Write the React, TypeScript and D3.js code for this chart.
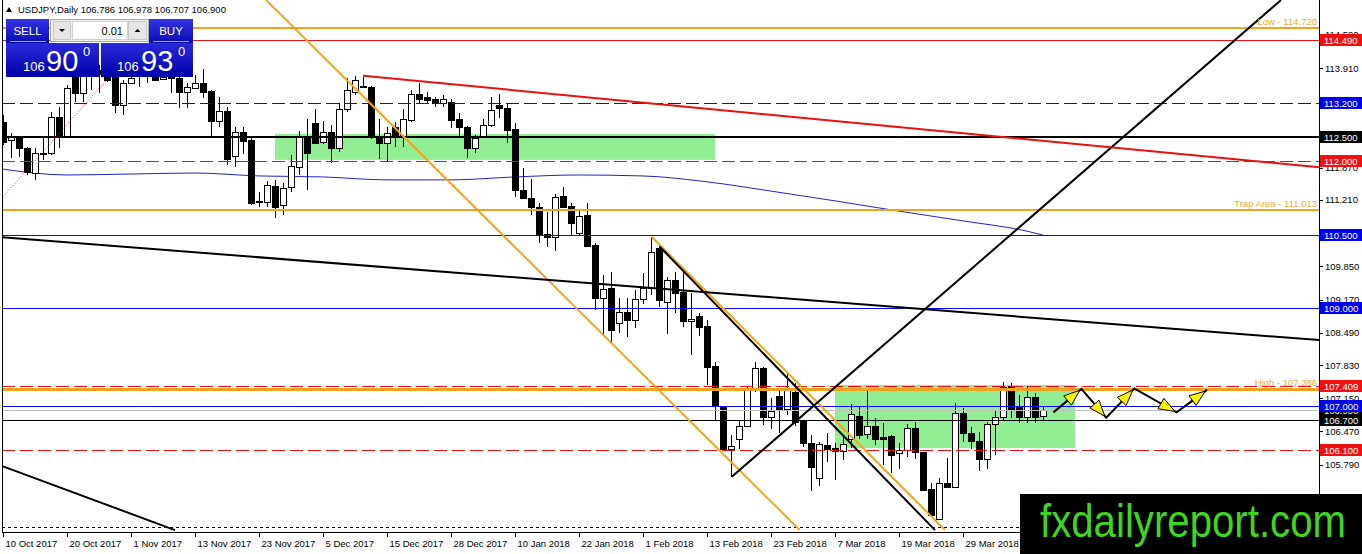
import React, { useEffect } from 'react';
import * as d3 from 'd3';

// USDJPY daily chart, MT4 style. Bar 0 = 10 Oct 2017, bar 130 = last (current) bar.
const W = 1362;
const H = 554;
const PLOT_L = 2;
const PLOT_R = 1319;
const PLOT_B = 532;

const dateLabels = [
  '10 Oct 2017', '20 Oct 2017', '1 Nov 2017', '13 Nov 2017', '23 Nov 2017', '5 Dec 2017',
  '15 Dec 2017', '28 Dec 2017', '10 Jan 2018', '22 Jan 2018', '1 Feb 2018', '13 Feb 2018',
  '23 Feb 2018', '7 Mar 2018', '19 Mar 2018', '29 Mar 2018',
];
const dateLabelBars = [0, 8, 16, 24, 32, 40, 48, 56, 64, 72, 80, 88, 96, 104, 112, 120];

const priceTicks = [
  114.59, 113.91, 113.23, 112.55, 111.87, 111.21, 110.53, 109.85, 109.17, 108.49, 107.83,
  107.15, 106.47, 105.79, 105.11,
];

const opens = [
  112.8, 112.44, 112.5, 112.27, 111.76, 112.15, 112.17, 112.91, 112.5, 113.75,
  113.4, 113.83, 113.87, 113.83, 113.87, 113.15, 113.6, 113.79, 113.83, 113.75,
  113.69, 113.79, 113.71, 113.42, 113.5, 113.6, 113.44, 112.83, 113.03, 112.11,
  112.6, 112.44, 111.19, 111.17, 111.49, 111.11, 111.47, 111.88, 112.5, 112.78,
  112.4, 112.6, 112.27, 113.07, 113.42, 113.54, 113.52, 112.5, 112.38, 112.7,
  112.5, 112.85, 113.38, 113.32, 113.28, 113.19, 113.21, 112.87, 112.7, 112.27,
  112.5, 112.74, 113.15, 113.09, 112.66, 111.41, 111.25, 111.07, 110.51, 110.45,
  111.29, 111.09, 110.53, 110.9, 110.29, 109.2, 109.41, 108.69, 108.92, 108.75,
  109.18, 109.41, 110.23, 109.12, 109.57, 109.32, 108.73, 108.83, 108.63, 107.81,
  106.99, 106.11, 106.32, 106.58, 107.32, 107.77, 106.77, 107.2, 106.93, 107.28,
  106.7, 106.23, 105.52, 106.19, 106.13, 106.07, 106.32, 106.79, 106.42, 106.58,
  106.36, 106.38, 106.03, 106.09, 106.54, 106.05, 105.29, 104.68, 105.42, 105.33,
  106.85, 106.44, 106.27, 105.91, 106.62, 106.77, 107.4, 106.99, 106.77, 107.18,
  106.786,
];
const highs = [
  112.95, 112.58, 112.52, 112.29, 112.27, 112.48, 113.01, 113.11, 113.56, 113.87,
  113.87, 114.03, 113.97, 113.95, 113.95, 113.66, 113.79, 113.91, 113.95, 113.87,
  113.83, 113.91, 113.87, 113.6, 113.77, 113.89, 113.46, 113.32, 113.11, 112.7,
  112.7, 112.48, 111.37, 111.6, 111.62, 111.56, 112.13, 112.62, 112.87, 113.07,
  112.83, 112.74, 113.19, 113.71, 113.75, 113.73, 113.54, 112.87, 112.7, 112.8,
  113.07, 113.46, 113.6, 113.42, 113.32, 113.36, 113.28, 112.99, 112.72, 112.54,
  112.87, 113.32, 113.38, 113.19, 112.78, 111.86, 111.64, 111.15, 110.96, 111.33,
  111.47, 111.15, 111.0, 111.15, 110.33, 109.67, 109.73, 109.2, 109.2, 109.37,
  109.71, 110.45, 110.27, 109.63, 109.73, 109.75, 109.3, 108.89, 108.75, 107.89,
  106.99, 106.4, 106.68, 107.38, 107.89, 107.79, 107.15, 107.32, 107.65, 107.46,
  106.7, 106.4, 106.25, 106.44, 106.23, 106.4, 107.03, 106.97, 107.32, 106.75,
  106.64, 106.4, 106.23, 106.62, 106.66, 106.05, 105.42, 105.52, 105.93, 107.05,
  106.95, 106.56, 106.46, 106.66, 106.89, 107.48, 107.46, 107.22, 107.4, 107.26,
  106.978,
];
const lows = [
  112.33, 112.07, 112.09, 111.72, 111.62, 112.03, 112.13, 112.27, 112.48, 113.21,
  113.21, 113.46, 113.4, 113.62, 112.99, 112.95, 113.58, 113.52, 113.6, 113.64,
  113.66, 113.4, 113.09, 113.09, 113.48, 113.3, 112.48, 112.7, 111.92, 111.88,
  112.15, 111.11, 111.07, 111.07, 110.84, 110.9, 111.37, 111.72, 111.41, 112.35,
  112.35, 111.97, 112.19, 113.01, 113.36, 113.52, 112.46, 112.05, 112.01, 112.29,
  112.29, 112.8, 113.19, 113.19, 113.11, 113.11, 112.68, 112.48, 112.07, 112.17,
  112.48, 112.7, 112.89, 112.38, 111.27, 111.23, 110.9, 110.33, 110.25, 110.16,
  111.04, 110.49, 110.49, 110.25, 108.96, 108.47, 108.3, 108.49, 108.4, 108.59,
  109.08, 109.26, 109.02, 108.47, 108.89, 108.61, 108.04, 108.42, 107.42, 106.7,
  106.09, 105.54, 106.11, 106.56, 107.28, 106.6, 106.52, 106.44, 106.81, 106.58,
  106.15, 105.25, 105.35, 105.84, 105.48, 105.89, 106.13, 106.32, 106.32, 106.19,
  105.78, 105.62, 105.7, 105.95, 105.91, 105.25, 104.72, 104.66, 105.33, 105.31,
  106.25, 106.11, 105.66, 105.7, 105.99, 106.68, 106.75, 106.64, 106.64, 106.64,
  106.707,
];
const closes = [
  112.4, 112.5, 112.27, 111.78, 112.17, 112.17, 112.91, 112.5, 113.5, 113.4,
  113.79, 113.91, 113.79, 113.66, 113.15, 113.6, 113.71, 113.83, 113.79, 113.66,
  113.73, 113.71, 113.42, 113.52, 113.6, 113.42, 112.83, 113.03, 112.05, 112.6,
  112.42, 111.15, 111.18, 111.52, 111.07, 111.45, 111.9, 112.5, 112.17, 112.38,
  112.6, 112.27, 113.07, 113.46, 113.66, 113.55, 112.5, 112.38, 112.58, 112.5,
  112.87, 113.38, 113.28, 113.26, 113.19, 113.28, 112.85, 112.7, 112.27, 112.48,
  112.74, 113.05, 113.09, 112.64, 111.41, 111.25, 111.07, 110.51, 110.45, 111.27,
  111.07, 110.74, 110.88, 110.27, 109.2, 109.39, 108.55, 108.92, 108.75, 109.18,
  109.41, 110.14, 109.16, 109.57, 109.3, 108.73, 108.77, 108.61, 107.79, 106.99,
  106.11, 106.17, 106.58, 107.32, 107.77, 106.77, 106.89, 106.93, 107.32, 106.66,
  106.23, 105.74, 106.21, 106.11, 106.07, 106.21, 106.83, 106.4, 106.58, 106.32,
  106.32, 105.99, 106.09, 106.54, 106.05, 105.27, 104.76, 105.42, 105.33, 106.85,
  106.44, 106.27, 105.91, 106.62, 106.77, 107.38, 106.93, 106.77, 107.18, 106.77,
  106.9,
];

// moving average (blue), read at every 8th bar
const maBars = [0, 8, 16, 24, 32, 40, 48, 56, 64, 72, 80, 88, 96, 104, 112, 120, 128, 130];
const maValues = [
  111.84, 111.72, 111.74, 111.76, 111.7, 111.68, 111.62, 111.62, 111.68, 111.72, 111.7,
  111.58, 111.39, 111.19, 110.98, 110.78, 110.57, 110.49,
];

// horizontal lines
const levelPrices = [114.72, 114.49, 113.2, 112.5, 112.0, 111.013, 110.5, 109.0, 107.409, 107.34, 107.0, 106.9, 106.7, 106.1, 104.51];
const levelKinds = ['orange', 'red', 'blueDash', 'blackBold', 'redDash', 'orange', 'blue', 'blue', 'redDash', 'orangeBold', 'blue', 'grey', 'black', 'redDash', 'dotted'];
const levelNames = ['Low - 114.720', '', '', '', '', 'Trap Area - 111.013', '', '', '', 'High - 107.386', '', '', '', '', ''];

// price boxes on the right scale (drawing order)
const boxPrices = [106.9, 106.7, 107.0, 107.409, 106.1, 109.0, 110.5, 112.0, 112.5, 113.2, 114.49];
const boxKinds = ['black', 'black', 'blue', 'red', 'red', 'blue', 'blue', 'red', 'black', 'blue', 'red'];

// trend lines: [bar1, price1, bar2, price2]
const trendPoints = [
  [32.9, 115.3, 99.6, 104.45],
  [81.1, 110.45, 117.75, 104.45],
  [82.1, 110.25, 116.5, 104.45],
  [91.1, 105.54, 159.75, 115.3],
  [-0.4, 110.45, 164.5, 108.34],
  [45, 113.75, 164.5, 111.88],
  [-0.4, 105.78, 21.5, 104.45],
  [0, 111.27, 15, 114.05],
];
const trendKinds = ['orange', 'orange', 'black', 'black', 'black', 'red', 'black', 'redDot'];

// green zones: [bar1, bar2, priceTop, priceBottom]
const zones = [
  [34, 89, 112.56, 112.03],
  [104, 134, 107.42, 106.13],
];

// projected path with arrows
const projBars = [131.3, 134.8, 137.9, 141.4, 146.7, 150.5];
const projPrices = [106.86, 107.34, 106.75, 107.35, 106.86, 107.32];

const bidPrice = 106.9;
const askPrice = 106.93;

const STYLE: Record<string, { stroke: string; width: number; dash?: string }> = {
  orange: { stroke: '#F2A31E', width: 2 },
  orangeBold: { stroke: '#F2A31E', width: 3 },
  red: { stroke: '#E81010', width: 1 },
  redDash: { stroke: '#E81010', width: 1, dash: '13,5' },
  redDot: { stroke: '#E81010', width: 1, dash: '1,2' },
  blue: { stroke: '#0A0AF0', width: 1 },
  blueDash: { stroke: '#0A0AF0', width: 1, dash: '13,5' },
  black: { stroke: '#000', width: 1 },
  blackBold: { stroke: '#000', width: 2 },
  grey: { stroke: '#C0C0C0', width: 1 },
  dotted: { stroke: '#000', width: 1, dash: '3,3' },
};
const TREND_W: Record<string, number> = { orange: 2, black: 2, red: 2, redDot: 1 };
const BOX_FILL: Record<string, string> = { black: '#000', blue: '#0000F0', red: '#F01010' };
const FONT = "'Liberation Sans', Arial, sans-serif";

// snap a horizontal line to the pixel grid so 1px lines stay sharp
const snap = (v: number, w: number) => (w % 2 === 1 ? Math.round(v) + 0.5 : Math.round(v));

export default function App() {
  useEffect(() => {
    document.body.style.margin = '0';
  }, []);

  const x = d3.scaleLinear().domain([0, 130]).range([3, 1043]);
  const y = d3.scaleLinear().domain([107.83, 113.91]).range([365, 68]);

  const maLine = d3
    .line<number>()
    .x((_, i) => x(maBars[i]))
    .y((d) => y(d))
    .curve(d3.curveMonotoneX);

  const projLine = d3
    .line<number>()
    .x((_, i) => x(projBars[i]))
    .y((d) => y(d));

  // arrowheads near the end of each projection segment
  const arrowHeads = projPrices.slice(1).map((p, i) => {
    const x0 = x(projBars[i]);
    const y0 = y(projPrices[i]);
    const x1 = x(projBars[i + 1]);
    const y1 = y(p);
    const len = Math.hypot(x1 - x0, y1 - y0);
    const ux = (x1 - x0) / len;
    const uy = (y1 - y0) / len;
    const tx = x1 - ux * 2;
    const ty = y1 - uy * 2;
    const bx = tx - ux * 16;
    const by = ty - uy * 16;
    return `M${tx},${ty}L${bx - uy * 6},${by + ux * 6}L${bx + uy * 6},${by - ux * 6}Z`;
  });

  const splitPrice = (p: number) => {
    const s = p.toFixed(3);
    return { big: s.slice(0, 3), mid: s.slice(4, 6), pip: s.slice(6) };
  };
  const bid = splitPrice(bidPrice);
  const ask = splitPrice(askPrice);
  const last = opens.length - 1;

  return (
    <svg width={W} height={H} style={{ display: 'block', background: '#fff' }} fontFamily={FONT}>
      <defs>
        <clipPath id="plot">
          <rect x={PLOT_L} y={0} width={PLOT_R - PLOT_L} height={PLOT_B} />
        </clipPath>
        <linearGradient id="btn" x1="0" y1="0" x2="0" y2="1">
          <stop offset="0" stopColor="#3434E6" />
          <stop offset="1" stopColor="#0A0AB4" />
        </linearGradient>
        <linearGradient id="pbox" x1="0" y1="0" x2="0" y2="1">
          <stop offset="0" stopColor="#2A2ADE" />
          <stop offset="1" stopColor="#0000A6" />
        </linearGradient>
      </defs>

      <g clipPath="url(#plot)">
        {zones.map((z, i) => (
          <rect
            key={`z${i}`}
            x={x(z[0])}
            y={y(z[2])}
            width={x(z[1]) - x(z[0])}
            height={y(z[3]) - y(z[2])}
            fill="#92EE92"
          />
        ))}

        <path d={maLine(maValues) ?? ''} fill="none" stroke="#2323C8" strokeWidth={1} />

        {opens.map((o, i) => {
          const c = closes[i];
          const cx = Math.round(x(i)) + 0.5;
          const top = Math.round(y(Math.max(o, c))) + 0.5;
          const bot = Math.round(y(Math.min(o, c))) + 0.5;
          const bull = c >= o;
          return (
            <g key={`c${i}`} shapeRendering="crispEdges">
              <line x1={cx} x2={cx} y1={y(highs[i])} y2={y(lows[i])} stroke="#000" strokeWidth={1} />
              <rect
                x={cx - 3}
                y={top}
                width={6}
                height={Math.max(0.5, bot - top)}
                fill={bull ? '#fff' : '#000'}
                stroke="#000"
                strokeWidth={1}
              />
            </g>
          );
        })}

        {levelPrices.map((p, i) => {
          const s = STYLE[levelKinds[i]];
          const ly = snap(y(p), s.width);
          return (
            <line
              key={`l${i}`}
              x1={PLOT_L}
              x2={PLOT_R}
              y1={ly}
              y2={ly}
              stroke={s.stroke}
              strokeWidth={s.width}
              strokeDasharray={s.dash}
            />
          );
        })}

        {trendPoints.map((t, i) => {
          const k = trendKinds[i];
          const s = STYLE[k];
          return (
            <line
              key={`t${i}`}
              x1={x(t[0])}
              y1={y(t[1])}
              x2={x(t[2])}
              y2={y(t[3])}
              stroke={s.stroke}
              strokeWidth={TREND_W[k]}
              strokeDasharray={s.dash}
            />
          );
        })}

        {levelNames.map((n, i) =>
          n ? (
            <text
              key={`n${i}`}
              x={PLOT_R - 2}
              y={y(levelPrices[i]) - 3}
              textAnchor="end"
              fontSize={9.5}
              fill="#F0A838"
            >
              {n}
            </text>
          ) : null,
        )}

        <path d={projLine(projPrices) ?? ''} fill="none" stroke="#000" strokeWidth={2} />
        {arrowHeads.map((d, i) => (
          <path key={`a${i}`} d={d} fill="#FFF200" stroke="#000" strokeWidth={1} />
        ))}
      </g>

      {/* frame and axes */}
      <g shapeRendering="crispEdges">
        <line x1={PLOT_L + 0.5} x2={PLOT_L + 0.5} y1={0} y2={PLOT_B} stroke="#000" />
        <line x1={PLOT_R + 0.5} x2={PLOT_R + 0.5} y1={0} y2={PLOT_B} stroke="#000" />
        <line x1={PLOT_L} x2={PLOT_R + 1} y1={PLOT_B + 0.5} y2={PLOT_B + 0.5} stroke="#000" />
      </g>

      {priceTicks.map((p) => (
        <g key={`pt${p}`}>
          <line x1={PLOT_R} x2={PLOT_R + 4} y1={snap(y(p), 1)} y2={snap(y(p), 1)} stroke="#000" shapeRendering="crispEdges" />
          <text x={1325} y={y(p) + 3.5} fontSize={9.5} fill="#000">
            {p.toFixed(3)}
          </text>
        </g>
      ))}

      {boxPrices.map((p, i) => (
        <g key={`b${i}`}>
          <rect x={1320} y={Math.round(y(p)) - 6} width={42} height={12} fill={BOX_FILL[boxKinds[i]]} />
          <text x={1324} y={Math.round(y(p)) + 3.5} fontSize={9.5} fill="#fff">
            {p.toFixed(3)}
          </text>
        </g>
      ))}

      {dateLabels.map((d, i) => {
        const tx = Math.round(x(dateLabelBars[i])) + 0.5;
        return (
          <g key={`d${i}`}>
            <line x1={tx} x2={tx} y1={PLOT_B} y2={PLOT_B + 5} stroke="#000" shapeRendering="crispEdges" />
            <text x={tx + 2} y={547} fontSize={9.5} fill="#000">
              {d}
            </text>
          </g>
        );
      })}

      {/* header */}
      <path d="M6,12L9,7L12,12Z" fill="#000" />
      <text x={18} y={13} fontSize={9.5} fill="#000">
        {`USDJPY,Daily  ${opens[last].toFixed(3)} ${highs[last].toFixed(3)} ${lows[last].toFixed(3)} ${closes[last].toFixed(3)}`}
      </text>

      {/* one-click trading panel */}
      <g>
        <rect x={6} y={19} width={43} height={24} fill="url(#btn)" />
        <text x={27.5} y={35} fontSize={11.5} fill="#fff" textAnchor="middle">SELL</text>
        <line x1={10} x2={46} y1={41.5} y2={41.5} stroke="#9EA6F0" />
        <rect x={50.5} y={19.5} width={98} height={22} fill="#F0F0F0" stroke="#A8A8A8" />
        <rect x={53.5} y={21.5} width={17} height={18} fill="#E6E6E6" stroke="#C8C8C8" />
        <path d="M59,29L65,29L62,32Z" fill="#000" />
        <rect x={72.5} y={21.5} width={55} height={18} fill="#fff" stroke="#D0D0D0" />
        <text x={123} y={35} fontSize={11} textAnchor="end" fill="#000">0.01</text>
        <rect x={128.5} y={21.5} width={18} height={18} fill="#E6E6E6" stroke="#C8C8C8" />
        <path d="M134.5,32L140.5,32L137.5,29Z" fill="#000" />
        <rect x={149} y={19} width={44} height={24} fill="url(#btn)" />
        <text x={171} y={35} fontSize={11.5} fill="#fff" textAnchor="middle">BUY</text>
        <line x1={153} x2={189} y1={41.5} y2={41.5} stroke="#9EA6F0" />

        <rect x={6} y={43} width={93} height={34} fill="url(#pbox)" />
        <text x={23} y={71} fontSize={13} fill="#fff">{bid.big}</text>
        <text x={46} y={71} fontSize={29} fill="#fff">{bid.mid}</text>
        <text x={83} y={56} fontSize={13} fill="#fff">{bid.pip}</text>
        <rect x={101} y={43} width={92} height={34} fill="url(#pbox)" />
        <text x={117} y={71} fontSize={13} fill="#fff">{ask.big}</text>
        <text x={141} y={71} fontSize={29} fill="#fff">{ask.mid}</text>
        <text x={178} y={56} fontSize={13} fill="#fff">{ask.pip}</text>
      </g>

      {/* watermark */}
      <rect x={1020} y={494} width={342} height={60} fill="#000" />
      <text
        x={1040}
        y={537}
        fontSize={46}
        fill="#3FD61E"
        fontFamily="'Liberation Sans Narrow', 'Liberation Sans', Arial, sans-serif"
        textLength={306}
        lengthAdjust="spacingAndGlyphs"
      >
        fxdailyreport.com
      </text>
    </svg>
  );
}
